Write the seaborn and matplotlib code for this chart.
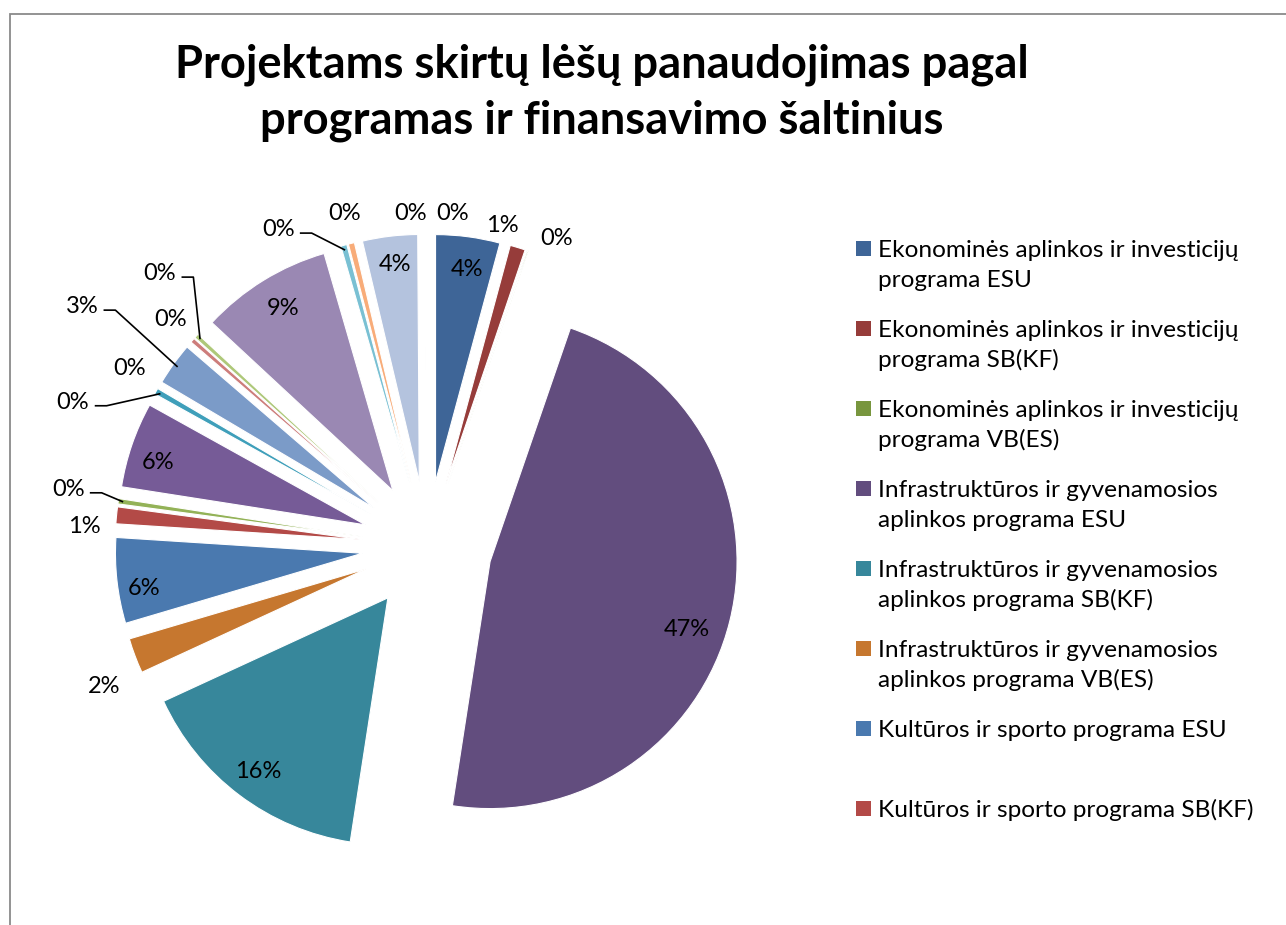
import textwrap
import numpy as np
import pandas as pd
import matplotlib
matplotlib.use("Agg")
import matplotlib.pyplot as plt
from matplotlib.patches import Rectangle
import seaborn as sns

# ---------------- data ----------------
title_lines = ["Projektams skirtų lėšų panaudojimas pagal",
               "programas ir finansavimo šaltinius"]

categories = [
    "Ekonominės aplinkos ir investicijų programa ESU",
    "Ekonominės aplinkos ir investicijų programa SB(KF)",
    "Ekonominės aplinkos ir investicijų programa VB(ES)",
    "Infrastruktūros ir gyvenamosios aplinkos programa ESU",
    "Infrastruktūros ir gyvenamosios aplinkos programa SB(KF)",
    "Infrastruktūros ir gyvenamosios aplinkos programa VB(ES)",
    "Kultūros ir sporto programa ESU",
    "Kultūros ir sporto programa SB(KF)",
    "Kultūros ir sporto programa VB(ES)",
    "Programa 4 ESU", "Programa 4 SB(KF)", "Programa 4 VB(ES)",
    "Programa 5 ESU", "Programa 5 SB(KF)", "Programa 5 VB(ES)",
    "Programa 6 ESU", "Programa 6 SB(KF)", "Programa 6 VB(ES)",
    "Programa 7 ESU", "Programa 7 SB(KF)", "Programa 7 VB(ES)",
]

values = [4.2, 1.0, 0.08, 47.2, 15.7, 2.3, 5.6, 1.1, 0.35, 5.6, 0.4,
          0.05, 2.8, 0.3, 0.3, 8.6, 0.4, 0.4, 3.6, 0.05, 0.05]

colors = ["#3E6597", "#963C3A", "#78963E", "#624D7E", "#37879B", "#C6772F",
          "#4A79AF", "#B34A47", "#93B257", "#765B97", "#3F9FBA", "#F69240",
          "#7B9BC8", "#CD7D7B", "#AEC879", "#9A88B3", "#79C0D3", "#F8AC79",
          "#B4C3DE", "#DDB3B2", "#CFDDB0"]

legend_count = 8

# ---------------- layout ----------------
W, H = 1286, 925
CX, CY, R = 427, 546, 247          # pie centre / radius in pixels
EXPLODE = 0.263
# label position: (distance from pie centre in radii, angle clockwise from 12 o'clock)
label_polar = [(1.137, 8.2), (1.339, 13.1), (1.357, 22.8), (1.104, 107.5),
               (1.136, 217.0), (1.424, 246.7), (1.158, 261.8), (1.391, 273.5),
               (1.472, 279.2), (1.142, 287.5), (1.549, 292.3), (1.404, 301.1),
               (1.704, 304.9), (1.391, 311.6), (1.549, 315.7), (1.130, 328.9),
               (1.421, 334.9), (1.392, 346.2), (1.153, 353.5), (1.354, 357.1),
               (1.356, 4.4)]
leader_idx = [8, 10, 12, 14, 16]

sns.set_theme(style="white")
plt.rcParams["font.family"] = ["Lato", "DejaVu Sans"]

fig = plt.figure(figsize=(W / 100, H / 100), dpi=100)
fig.patch.set_facecolor("white")
ax = fig.add_axes([0, 0, 1, 1])

df = pd.DataFrame({"category": categories, "value": values, "color": colors})
total = df["value"].sum()

wedges, _ = ax.pie(df["value"], colors=df["color"], startangle=90,
                   counterclock=False, explode=[EXPLODE] * len(df), radius=1,
                   center=(0, 0),
                   wedgeprops=dict(edgecolor="white", linewidth=0.8))
ax.set_xlim(-CX / R, (W - CX) / R)
ax.set_ylim(-(H - CY) / R, CY / R)
ax.set_aspect("equal")
ax.axis("off")

label_fs = 17
for i, (v, (rr, ang)) in enumerate(zip(df["value"], label_polar)):
    pct = int(round(100 * v / total))
    a = np.deg2rad(ang)
    x, y = rr * np.sin(a), rr * np.cos(a)
    ax.text(x, y - 0.033, f"{pct}%", ha="center", va="baseline",
            fontsize=label_fs, color="black")
    if i in leader_idx:
        w = wedges[i]
        th = np.deg2rad((w.theta1 + w.theta2) / 2)
        ex = w.center[0] + 0.98 * np.cos(th)
        ey = w.center[1] + 0.98 * np.sin(th)
        sx, sy = x + 0.088, y - 0.02
        ax.plot([sx, sx + 0.048, ex], [sy, sy, ey], color="black", lw=1.2,
                solid_capstyle="butt")

# title
for k, line in enumerate(title_lines):
    fig.text(602 / W, 1 - (77 + 56 * k) / H, line, ha="center", va="baseline",
             fontsize=32.7, fontweight="bold", color="black")

# legend
for i in range(legend_count):
    base = 257 + 80 * i
    fig.add_artist(Rectangle((856 / W, 1 - (base - 1) / H), 15 / W, 15 / H,
                             transform=fig.transFigure,
                             facecolor=df["color"][i], edgecolor="none"))
    for k, line in enumerate(textwrap.wrap(df["category"][i], 34)):
        fig.text(878 / W, 1 - (base + 30 * k) / H, line, ha="left",
                 va="baseline", fontsize=17.6, color="black")

# chart frame
fig.add_artist(Rectangle((10 / W, -0.05), 1.1, 1 - 14 / H + 0.05,
                         transform=fig.transFigure, fill=False,
                         edgecolor="#8a8a8a", linewidth=1.3))

fig.savefig("out.png", dpi=100, facecolor="white")
